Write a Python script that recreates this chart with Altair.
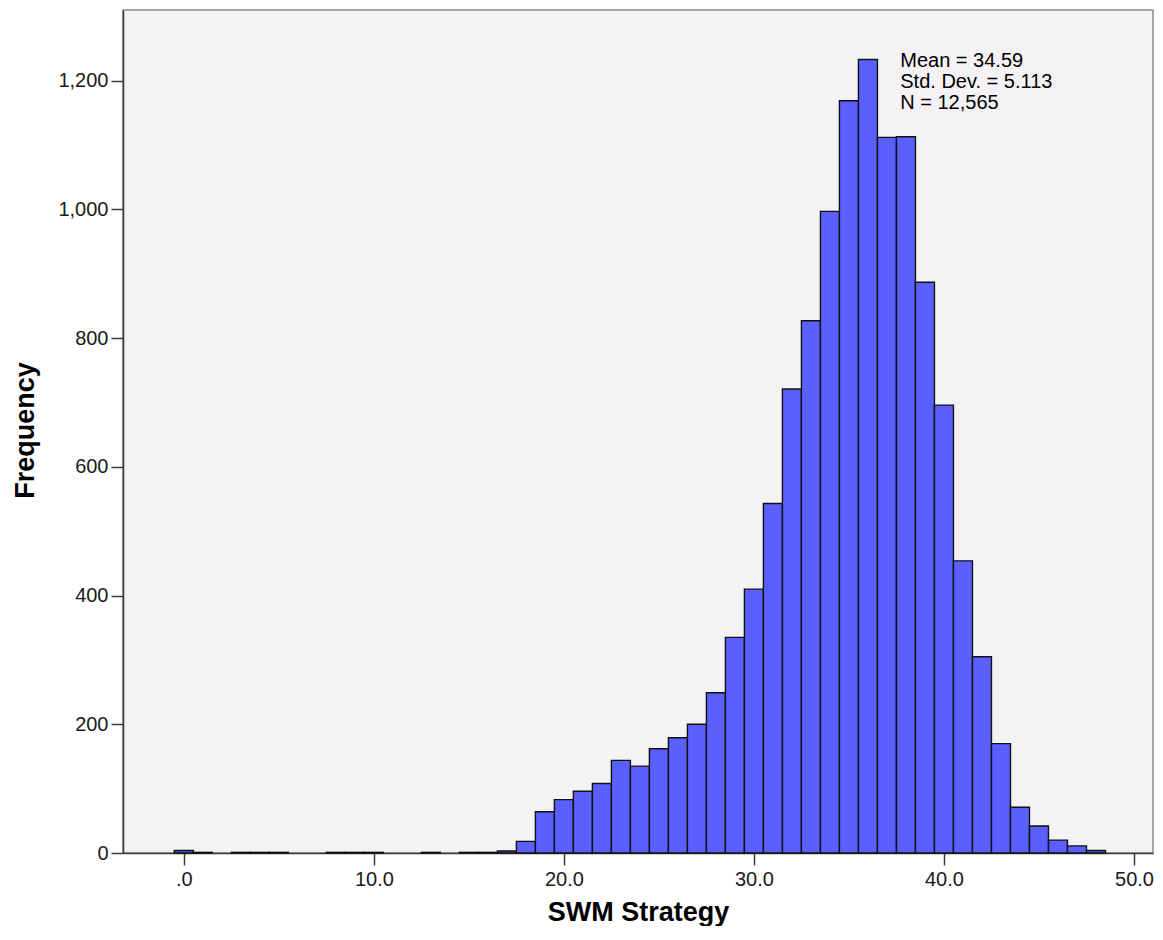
import altair as alt
import pandas as pd

# Histogram of SWM Strategy (bin width 1.0, bins centred on integers)
bin_centers = list(range(0, 49))
counts = [4, 1, 0, 1, 1, 1, 0, 0, 1, 1, 1, 0, 0, 1, 0, 1, 1, 3,
          18, 64, 83, 96, 108, 144, 135, 162, 179, 200, 249,
          335, 410, 543, 721, 827, 997, 1169, 1233, 1112, 1113, 887,
          696, 454, 305, 170, 71, 42, 20, 11, 4]
bin_width = 1.0

x_ticks = [0, 10, 20, 30, 40, 50]
y_ticks = [0, 200, 400, 600, 800, 1000, 1200]

stats_lines = ["Mean = 34.59", "Std. Dev. = 5.113", "N = 12,565"]
stats_x = 37.7
stats_y = [1222, 1189, 1156]

rows = []
for c, n in zip(bin_centers, counts):
    if n > 0:
        rows.append({"lo": c - bin_width / 2, "hi": c + bin_width / 2,
                     "count": n, "base": 0})
df = pd.DataFrame(rows)
stats_df = pd.DataFrame({"label": stats_lines, "x": [stats_x] * 3, "y": stats_y})

FONT = "Liberation Sans"

PLOT_W = 1030
PLOT_H = 843

xscale = alt.Scale(domain=[-3.2, 51.0], nice=False, zero=False)
yscale = alt.Scale(domain=[0, 1310], nice=False)

bars = alt.Chart(df).mark_rect(
    color="#5A5FFF", stroke="#111111", strokeWidth=1.4
).encode(
    x=alt.X("lo:Q", scale=xscale,
            axis=alt.Axis(values=x_ticks, title="SWM Strategy",
                          labelExpr="datum.value == 0 ? '.0' : format(datum.value, '.1f')",
                          labelPadding=4, titleX=PLOT_W / 2, titleY=67,
                          titleBaseline="alphabetic", titleAnchor="middle",
                          titleAlign="center")),
    x2="hi:Q",
    y=alt.Y("count:Q", scale=yscale,
            axis=alt.Axis(values=y_ticks, format=",d", title="Frequency",
                          labelPadding=3, titleX=-90, titleY=420,
                          titleAngle=-90, titleBaseline="alphabetic",
                          titleAlign="center")),
    y2="base:Q",
)

stats = alt.Chart(stats_df).mark_text(
    align="left", baseline="alphabetic", font=FONT, fontSize=20, color="#000000"
).encode(
    x=alt.X("x:Q", scale=xscale),
    y=alt.Y("y:Q", scale=yscale),
    text="label:N",
)

chart = alt.layer(bars, stats).properties(
    width=PLOT_W,
    height=PLOT_H,
    autosize=alt.AutoSizeParams(type="none"),
    padding={"left": 115, "top": 2, "right": 2, "bottom": 73},
    background="#FFFFFF",
).configure_view(
    fill="#F5F2F5", stroke="#8C8C8C", strokeWidth=1.5
).configure_axis(
    grid=False,
    domainColor="#3A3A3A", domainWidth=1.5,
    tickColor="#3A3A3A", tickWidth=1.5, tickSize=12,
    labelFont=FONT, labelFontSize=20, labelColor="#1A1A1A",
    titleFont=FONT, titleFontSize=27, titleFontWeight="bold", titleColor="#000000",
)

chart.save("out.html", embed_options={"renderer": "svg", "actions": False})
